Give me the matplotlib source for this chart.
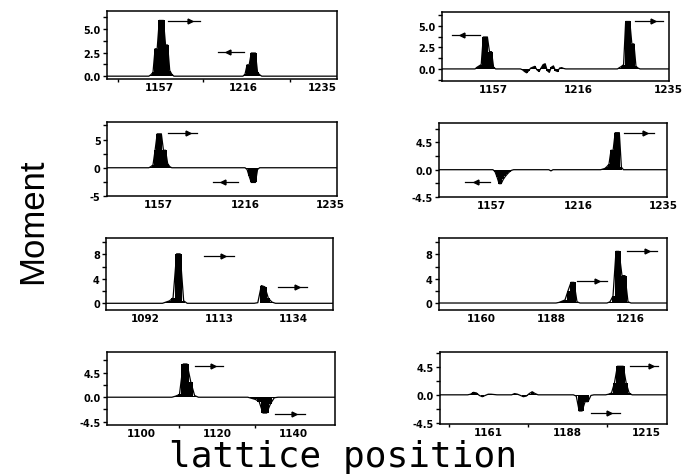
import numpy as np
import matplotlib
matplotlib.use('Agg')
import matplotlib.pyplot as plt
from matplotlib.ticker import MultipleLocator

# ---- data: moment per lattice site (only non-zero sites listed) ----
# panel 1 (top left)
p1_sites = [1146, 1147, 1148, 1149, 1150, 1151, 1152, 1153, 1154, 1155, 1156,
            1191, 1192, 1193, 1194, 1195, 1196, 1197, 1198]
p1_mom = [0.15, 0.4, 2.9, 2.9, 5.9, 5.9, 5.9, 3.3, 3.3, 0.6, 0.2,
          0.2, 1.2, 1.2, 2.45, 2.45, 2.45, 0.4, 0.15]
# panel 2 (top right)
p2_sites = [1142, 1143, 1144, 1145, 1146, 1147, 1148, 1149, 1150,
            1164, 1165, 1166, 1167, 1168, 1169, 1170, 1171, 1172, 1173, 1174,
            1175, 1176, 1177, 1178, 1179, 1180, 1181, 1182, 1183, 1184,
            1211, 1212, 1213, 1214, 1215, 1216, 1217, 1218, 1219, 1220]
p2_mom = [0.2, 0.35, 0.5, 3.7, 3.7, 3.7, 2.0, 2.0, 0.2,
          -0.1, -0.3, -0.45, -0.2, 0.1, 0.2, 0.3, -0.1, -0.3, 0.1, 0.5,
          0.6, -0.2, -0.4, 0.2, 0.35, -0.2, -0.3, 0.1, 0.15, 0.05,
          0.15, 0.3, 0.5, 5.5, 5.5, 5.5, 2.9, 2.9, 0.3, 0.1]
# panel 3
p3_sites = [1146, 1147, 1148, 1149, 1150, 1151, 1152, 1153, 1154, 1155,
            1192, 1193, 1194, 1195, 1196, 1197]
p3_mom = [0.2, 0.5, 3.1, 6.0, 6.0, 6.0, 3.1, 3.1, 0.75, 0.2,
          -0.3, -1.5, -2.6, -2.6, -2.6, -0.3]
# panel 4
p4_sites = [1152, 1153, 1154, 1155, 1156, 1157, 1158, 1159, 1160, 1179,
            1204, 1205, 1206, 1207, 1208, 1209, 1210, 1211, 1212, 1213]
p4_mom = [-0.3, -1.2, -2.3, -2.3, -1.6, -1.1, -0.7, -0.35, -0.1, -0.2,
          0.1, 0.2, 0.5, 0.9, 3.2, 3.2, 6.1, 6.1, 6.1, 0.4]
# panel 5
p5_sites = [1098, 1099, 1100, 1101, 1102, 1103, 1124, 1125, 1126, 1127, 1128]
p5_mom = [0.2, 0.4, 0.9, 8.1, 8.1, 0.4, 0.1, 2.9, 2.7, 0.8, 0.2]
# panel 6
p6_sites = [1185, 1186, 1187, 1188, 1189, 1190, 1191,
            1202, 1203, 1204, 1205, 1206, 1207, 1208]
p6_mom = [0.1, 0.3, 0.5, 2.0, 3.4, 3.4, 0.2,
          0.2, 1.15, 8.5, 8.5, 4.5, 4.5, 0.2]
# panel 7
p7_sites = [1109, 1110, 1111, 1112, 1113, 1114,
            1129, 1130, 1131, 1132, 1133, 1134, 1135]
p7_mom = [0.2, 0.5, 6.1, 6.1, 2.75, 0.3,
          -0.2, -0.4, -0.8, -2.9, -2.9, -1.2, -0.1]
# panel 8
p8_sites = [1155, 1156, 1157, 1158, 1159, 1160, 1161, 1162, 1163,
            1170, 1171, 1172, 1173, 1174, 1175, 1176, 1177,
            1191, 1192, 1193, 1194, 1195, 1196,
            1202, 1203, 1204, 1205, 1206, 1207, 1208, 1209]
p8_mom = [0.1, 0.4, 0.3, -0.1, -0.3, -0.1, 0.1, 0.1, 0.05,
          0.2, 0.1, -0.1, -0.3, -0.2, 0.2, 0.5, 0.2,
          -0.2, -2.6, -2.6, -1.1, -1.1, -0.1,
          0.1, 0.3, 1.9, 4.6, 4.6, 4.6, 1.9, 0.3]

# spin arrows: start, end, height, head position, direction
p1_arrows = [(1154, 1169.5, 5.85, 1164.7, '>'), (1178, 1190.5, 2.55, 1183, '<')]
p2_arrows = [(1129.7, 1143.4, 3.95, 1134.6, '<'), (1218.7, 1232.3, 5.6, 1227.4, '>')]
p3_arrows = [(1154.2, 1168, 6.1, 1163.8, '>'), (1175.6, 1187.8, -2.6, 1180.6, '<')]
p4_arrows = [(1137.6, 1149.6, -2.1, 1142.9, '<'), (1214.4, 1228.6, 6.0, 1224.5, '>')]
p5_arrows = [(1108.8, 1117.3, 7.8, 1114, '>'), (1129.8, 1137.9, 2.6, 1135, '>')]
p6_arrows = [(1190.9, 1200.9, 3.6, 1197.6, '>'), (1207.6, 1217.6, 8.5, 1214.2, '>')]
p7_arrows = [(1114.1, 1121.6, 5.8, 1118.9, '>'), (1135.2, 1143.1, -3.1, 1140.1, '>')]
p8_arrows = [(1195.9, 1205.8, -3.0, 1202.2, '>'), (1209.2, 1218.9, 4.7, 1216.6, '>')]

# axis ranges and tick labels
p_xlim = [(1125, 1235), (1125, 1235), (1125, 1235), (1125, 1235),
          (1081, 1145.3), (1145, 1221), (1090.9, 1151), (1144.6, 1221.9)]
p_ylim = [(-0.3, 6.9), (-1.4, 6.6), (-5, 8.1), (-4.5, 7.7),
          (-1.1, 10.7), (-1.15, 10.7), (-5.1, 8.3), (-4.7, 6.9)]
p_xtick_pos = [[1150, 1190, 1228], [1150, 1191, 1234.5], [1149.4, 1191, 1231.7],
               [1150.4, 1192, 1233], [1092, 1113, 1134], [1159.2, 1182.6, 1208.7],
               [1100, 1120, 1140], [1161, 1188, 1215]]
p_xtick_lab = [["1157", "1216", "1235"], ["1157", "1216", "1235"],
               ["1157", "1216", "1235"], ["1157", "1216", "1235"],
               ["1092", "1113", "1134"], ["1160", "1188", "1216"],
               ["1100", "1120", "1140"], ["1161", "1188", "1215"]]
p_xminor = [[1130.3, 1171, 1212.6], [], [], [], [], [],
            [1110, 1130], [1147.5, 1174.5, 1201.5]]
p_yticks = [[0, 2.5, 5], [0, 2.5, 5], [-5, 0, 5], [-4.5, 0, 4.5],
            [0, 4, 8], [0, 4, 8], [-4.5, 0, 4.5], [-4.5, 0, 4.5]]
p_ytick_lab = [["0.0", "2.5", "5.0"], ["0.0", "2.5", "5.0"], ["-5", "0", "5"],
               ["-4.5", "0.0", "4.5"], ["0", "4", "8"], ["0", "4", "8"],
               ["-4.5", "0.0", "4.5"], ["-4.5", "0.0", "4.5"]]
p_yminor = [1.25, 1.25, 2.5, 2.25, 2, 2, 2.25, 2.25]

sites_all = [p1_sites, p2_sites, p3_sites, p4_sites, p5_sites, p6_sites, p7_sites, p8_sites]
mom_all = [p1_mom, p2_mom, p3_mom, p4_mom, p5_mom, p6_mom, p7_mom, p8_mom]
arrows_all = [p1_arrows, p2_arrows, p3_arrows, p4_arrows,
              p5_arrows, p6_arrows, p7_arrows, p8_arrows]

# axes boxes in pixels (left, top, right, bottom)
boxes = [(107, 12, 337, 80), (442, 13, 669, 82),
         (107, 123, 337, 197), (439, 124, 667, 198),
         (106, 239, 333, 311), (439, 239, 667, 311),
         (107, 353, 335, 426), (440, 353, 667, 425)]

W, H = 686, 477
fig = plt.figure(figsize=(W/100, H/100), dpi=100)

for k in range(8):
    l, t, r, b = boxes[k]
    ax = fig.add_axes([l/W, 1 - b/H, (r-l)/W, (b-t)/H])
    x0, x1 = p_xlim[k]
    x = np.arange(np.floor(x0) - 1, np.ceil(x1) + 2)
    y = np.zeros(len(x))
    for s, m in zip(sites_all[k], mom_all[k]):
        y[int(s - x[0])] = m
    ax.fill_between(x, y, 0, step='mid', color='black', lw=0)
    ax.plot(x, y, color='black', lw=0.9)
    for (a0, a1, ay, hx, d) in arrows_all[k]:
        ax.plot([a0, a1], [ay, ay], color='black', lw=0.9)
        ax.plot(hx, ay, marker=d, ms=3.5, color='black')
    ax.set_xlim(x0, x1)
    ax.set_ylim(*p_ylim[k])
    ax.set_xticks(p_xtick_pos[k])
    ax.set_xticklabels(p_xtick_lab[k], fontsize=7.5, fontweight='bold')
    ax.set_xticks(p_xminor[k], minor=True)
    ax.set_yticks(p_yticks[k])
    ax.set_yticklabels(p_ytick_lab[k], fontsize=7, fontweight='bold')
    ax.yaxis.set_minor_locator(MultipleLocator(p_yminor[k]))
    ax.tick_params(axis='x', which='major', length=0, pad=2)
    ax.tick_params(axis='x', which='minor', length=2.5, width=1)
    ax.tick_params(axis='y', which='both', length=3, width=1, pad=1.5)
    for sp in ax.spines.values():
        sp.set_linewidth(1.1)

fig.text(0.047, 0.537, "Moment", rotation=90, ha='center', va='center',
         fontsize=25, family='Liberation Sans')
fig.text(0.5, 0.022, "lattice position", ha='center', va='baseline',
         fontsize=26, family='DejaVu Sans Mono')

fig.savefig('out.png', dpi=100)
